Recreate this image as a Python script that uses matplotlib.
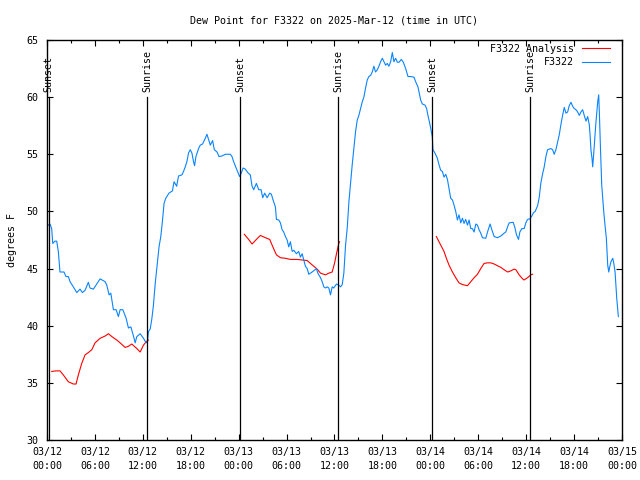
"""
    Dew point chart for station F3322, observed vs analysis, with
    sunrise / sunset markers.
"""


# ------ Environment Setup ------ #
import numpy as np
import pandas as pd
import matplotlib
matplotlib.use("Agg")
import matplotlib.pyplot as plt
import matplotlib.dates as mdates


# ------ Data ------ #
start_time = pd.Timestamp("2025-03-12 00:00")

# observed dew point (hours after start, degrees F)
obs_hours = [
    0.16, 0.38, 0.59, 0.72, 1.00, 1.22, 1.42, 1.63, 2.13, 2.38, 2.67, 2.89,
    3.30, 3.73, 4.14, 4.43, 4.77, 5.18, 5.39, 5.81, 6.23, 6.65, 7.28, 7.49,
    7.78, 7.99, 8.32, 8.66, 8.94, 9.16, 9.50, 9.91, 10.20, 10.50, 10.83, 11.04,
    11.25, 11.67, 12.08, 12.42, 12.58, 12.71, 12.92, 13.13, 13.33, 13.54, 13.83,
    14.03, 14.25, 14.47, 14.66, 14.87, 15.28, 15.71, 15.91, 16.24, 16.47, 16.90,
    17.10, 17.31, 17.52, 17.72, 17.94, 18.15, 18.35, 18.48, 18.65, 18.98, 19.19,
    19.48, 19.82, 20.03, 20.23, 20.45, 20.74, 20.95, 21.29, 21.54, 21.91, 22.33,
    22.96, 23.17, 23.37, 23.80, 24.12, 24.30, 24.55, 24.84, 25.13, 25.46, 25.68,
    25.88, 26.22, 26.51, 26.81, 27.01, 27.26, 27.56, 27.89, 28.10, 28.31, 28.60,
    28.73, 29.02, 29.23, 29.44, 29.64, 29.86, 30.07, 30.27, 30.48, 30.70, 30.90,
    31.23, 31.52, 31.74, 31.95, 32.15, 32.36, 32.58, 32.78, 33.20, 33.74, 33.91,
    34.25, 34.46, 34.66, 34.87, 35.09, 35.29, 35.50, 35.71, 35.91, 36.25, 36.54,
    36.76, 36.97, 37.17, 37.38, 37.60, 37.80, 38.01, 38.22, 38.42, 38.64, 38.85,
    39.05, 39.26, 39.48, 39.68, 39.89, 40.10, 40.30, 40.52, 40.73, 40.93, 41.14,
    41.36, 41.56, 41.77, 41.99, 42.19, 42.40, 42.61, 42.81, 43.03, 43.24, 43.44,
    43.65, 43.87, 44.07, 44.37, 44.62, 44.91, 45.20, 45.53, 45.95, 46.16, 46.45,
    46.57, 46.79, 47.00, 47.33, 47.54, 47.70, 47.88, 48.04, 48.25, 48.33, 48.58,
    48.88, 49.08, 49.30, 49.51, 49.71, 49.93, 50.14, 50.34, 50.55, 50.77, 50.97,
    51.18, 51.39, 51.59, 51.81, 52.02, 52.22, 52.43, 52.65, 52.85, 53.06, 53.27,
    53.48, 53.69, 53.90, 54.10, 54.31, 54.53, 54.94, 55.16, 55.36, 55.48, 55.70,
    55.99, 56.41, 56.83, 57.24, 57.45, 57.67, 57.87, 58.37, 58.58, 58.79, 59.04,
    59.21, 59.46, 59.75, 59.96, 60.17, 60.46, 60.71, 60.92, 61.13, 61.43, 61.63,
    61.84, 62.06, 62.26, 62.47, 62.68, 63.10, 63.31, 63.51, 63.72, 63.94, 64.14,
    64.35, 64.56, 64.77, 64.98, 65.19, 65.39, 65.61, 65.82, 66.02, 66.23, 66.45,
    66.65, 66.86, 67.07, 67.27, 67.49, 67.70, 67.90, 67.99, 68.11, 68.24, 68.33,
    68.45, 68.62, 68.74, 68.96, 69.08, 69.16, 69.28, 69.46, 69.71, 69.87, 70.04,
    70.21, 70.34, 70.46, 70.62, 70.84, 70.96, 71.13, 71.34, 71.54,
]
obs_values = [
    48.8, 48.9, 48.5, 47.2, 47.4, 47.4, 46.5, 44.7, 44.7, 44.3, 44.3, 43.85,
    43.4, 42.9, 43.2, 42.9, 43.1, 43.8, 43.3, 43.2, 43.65, 44.1, 43.85, 43.55,
    42.7, 42.85, 41.4, 41.4, 40.8, 41.4, 41.4, 40.65, 39.8, 39.9, 39.1, 38.5,
    39.05, 39.3, 38.9, 38.5, 38.6, 39.5, 39.7, 40.6, 41.8, 43.6, 45.5,
    46.9, 47.8, 49.25, 50.7, 51.15, 51.6, 51.8, 52.6, 52.2, 53.1, 53.2,
    53.5, 53.9, 54.35, 55.1, 55.4, 55.1, 54.35, 54.0, 54.8, 55.5, 55.8,
    55.9, 56.4, 56.75, 56.3, 55.8, 56.2, 55.4, 55.2, 54.8, 54.85, 55.0,
    55.0, 54.8, 54.35, 53.6, 53.05, 53.3, 53.8, 53.7, 53.4, 53.2, 52.2,
    51.9, 52.45, 51.9, 51.9, 51.2, 51.6, 51.2, 51.6, 51.5, 51.0, 50.4,
    49.3, 49.25, 49.0, 48.4, 48.2, 47.8, 47.5, 46.9, 47.35, 46.5, 46.6,
    46.3, 46.5, 46.0, 46.3, 45.75, 45.2, 45.0, 44.5, 44.7, 45.0, 44.6,
    44.2, 43.85, 43.4, 43.3, 43.4, 43.3, 42.7, 43.4, 43.3, 43.65, 43.55,
    43.4, 43.6, 44.6, 47.0, 48.6, 50.8, 52.5, 54.1, 55.5, 57.0, 58.0,
    58.4, 59.0, 59.6, 60.0, 60.8, 61.5, 61.8, 61.9, 62.2, 62.7, 62.2,
    62.4, 62.7, 63.1, 63.4, 63.1, 62.8, 62.95, 62.7, 63.1, 63.9, 63.1,
    63.4, 63.05, 63.05, 63.3, 63.05, 62.5, 61.8, 61.8, 61.75, 61.35, 60.9,
    60.5, 59.75, 59.4, 59.3, 59.0, 58.4, 57.85, 57.3, 56.5, 55.4, 55.1,
    54.65, 54.1, 53.6, 53.5, 53.0, 53.25, 52.8, 52.0, 51.15, 51.0, 50.55,
    50.0, 49.25, 49.7, 49.0, 49.4, 48.95, 49.3, 48.8, 49.25, 48.5, 48.5,
    48.2, 48.9, 48.8, 48.4, 48.1, 47.7, 47.65, 48.2, 48.65, 48.9, 48.4,
    47.8, 47.7, 47.85, 48.1, 48.2, 48.65, 49.0, 49.05, 48.6, 47.95, 47.55,
    48.2, 48.5, 48.5, 49.0, 49.3, 49.35, 49.6, 49.9, 50.0, 50.5, 51.2,
    52.5, 53.3, 53.9, 54.8, 55.4, 55.5, 55.4, 55.0, 55.4, 56.1, 56.7,
    57.6, 58.4, 59.1, 58.6, 58.7, 59.25, 59.55, 59.2, 59.0, 58.9, 58.7,
    58.4, 58.7, 58.9, 58.4, 57.9, 58.3, 57.6, 56.8, 55.4, 54.65, 53.9,
    55.0, 56.7, 57.85, 59.6, 60.2, 58.7, 56.0, 52.3, 50.0, 48.8, 47.65,
    45.3, 44.7, 45.15, 45.6, 45.9, 45.5, 44.7, 42.4, 40.8,
]

# analysis dew point, night-time only (nan = gap)
ana_hours = [
    0.59, 1.13, 1.63, 2.04, 2.67, 3.30, 3.64, 3.93, 4.35, 4.77, 5.18, 5.61,
    6.02, 6.65, 7.28, 7.69, 8.12, 8.74, 9.16, 9.78, 10.20, 10.62, 11.25, 11.67,
    12.08, 12.42, 12.71, 18.0,
    24.71, 25.25, 25.68, 26.22, 26.72, 27.35, 27.89, 28.31, 28.73, 29.23, 29.86,
    30.48, 31.32, 31.95, 32.58, 32.99, 33.41, 33.83, 34.25, 34.87, 35.29, 35.71,
    36.00, 36.25, 36.54, 36.63, 42.0,
    48.76, 49.08, 49.42, 49.71, 50.01, 50.34, 50.77, 51.18, 51.59, 52.02, 52.65,
    53.06, 53.48, 53.90, 54.31, 54.73, 55.16, 55.57, 55.99, 56.41, 56.83, 57.24,
    57.67, 58.08, 58.49, 58.71, 59.12, 59.55, 59.75, 60.17, 60.58, 60.80,
]
ana_values = [
    36.0, 36.05, 36.05, 35.7, 35.1, 34.9, 34.9, 35.7, 36.7, 37.45, 37.65, 37.9,
    38.5, 38.9, 39.1, 39.3, 39.05, 38.75, 38.5, 38.1, 38.2, 38.4, 38.0, 37.7,
    38.3, 38.6, 38.75, np.nan,
    48.0, 47.55, 47.15, 47.55, 47.9, 47.7, 47.55, 46.85, 46.2, 45.95, 45.9,
    45.8, 45.8, 45.75, 45.7, 45.45, 45.2, 44.95, 44.6, 44.45, 44.6, 44.7,
    45.45, 46.3, 47.2, 47.35, np.nan,
    47.8, 47.35, 46.9, 46.5, 45.9, 45.3, 44.7, 44.2, 43.75, 43.6, 43.5,
    43.85, 44.2, 44.5, 45.0, 45.45, 45.5, 45.5, 45.4, 45.25, 45.1, 44.9,
    44.7, 44.8, 44.95, 44.9, 44.45, 44.1, 44.0, 44.2, 44.45, 44.5,
]

# sun events (hours after start)
event_hours = [0.22, 12.56, 24.17, 36.48, 48.25, 60.52]
event_labels = ["Sunset", "Sunrise", "Sunset", "Sunrise", "Sunset", "Sunrise"]


# ------ Plotting ------ #
def to_times(hours):
    return start_time + pd.to_timedelta(hours, unit="h")


plt.rcParams["font.family"] = ["DejaVu Sans Mono"]
plt.rcParams["font.size"] = 7.2

fig = plt.figure(figsize=(6.4, 4.8), dpi=100)
ax = fig.add_axes([0.0734, 0.0833, 0.8985, 0.8334])

# series
ax.plot(to_times(ana_hours), ana_values, color="#ff0000", lw=0.8,
        label="F3322 Analysis")
ax.plot(to_times(obs_hours), obs_values, color="#0a84ff", lw=0.8,
        label="F3322")

# sunrise / sunset markers
for h, lab in zip(event_hours, event_labels):
    t = to_times(h)
    ax.plot([t, t], [30, 60], color="black", lw=0.9)
    ax.text(t, 60.45, lab, rotation=90, ha="center", va="bottom")

# axes
ax.set_xlim(to_times(0), to_times(72))
ax.set_ylim(30, 65)
ax.set_yticks(np.arange(30, 66, 5))
ax.xaxis.set_major_locator(mdates.HourLocator(byhour=[0, 6, 12, 18]))
ax.xaxis.set_minor_locator(mdates.HourLocator(byhour=range(0, 24, 3)))
ax.xaxis.set_major_formatter(mdates.DateFormatter("%m/%d\n%H:%M"))
ax.tick_params(which="both", direction="in", top=True, right=True, width=0.8)
ax.tick_params(which="major", length=4)
ax.tick_params(which="minor", length=2.5)
ax.tick_params(axis="x", pad=5)
ax.tick_params(axis="y", pad=6)
for s in ax.spines.values():
    s.set_linewidth(1.0)

# labels
ax.set_ylabel("degrees F", labelpad=7)
ax.set_title("Dew Point for F3322 on 2025-Mar-12 (time in UTC)",
             fontsize=7.2, pad=12)
ax.legend(loc="upper right", bbox_to_anchor=(0.979, 0.99), frameon=False,
          markerfirst=False, borderpad=0, borderaxespad=0, handlelength=2.8,
          handletextpad=0.8, labelspacing=0.35)

# wider line gap for two-line tick labels
fig.canvas.draw()
for lbl in ax.get_xticklabels():
    lbl.set_linespacing(1.55)

fig.savefig("out.png", dpi=100)
